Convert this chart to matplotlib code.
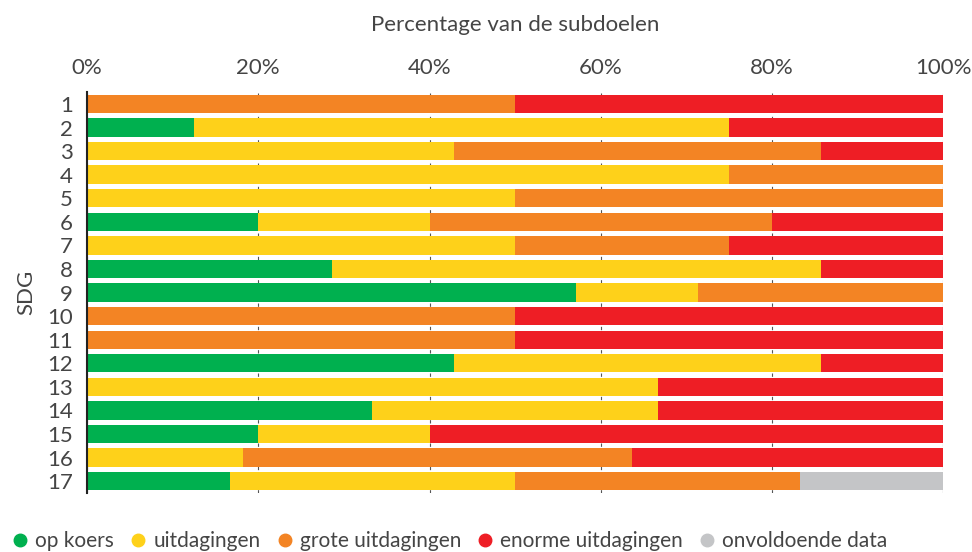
import matplotlib
matplotlib.use("Agg")
import matplotlib.pyplot as plt
import numpy as np

plt.rcParams['font.family'] = ['Lato', 'DejaVu Sans']

sdgs = [str(i) for i in range(1, 18)]
categories = ["op koers", "uitdagingen", "grote uitdagingen", "enorme uitdagingen", "onvoldoende data"]
colors = ["#00b04f", "#fed11a", "#f38424", "#ee1e25", "#c4c5c7"]

op_koers =    [0, 12.5, 0, 0, 0, 20, 0, 28.6, 57.1, 0, 0, 42.9, 0, 33.3, 20, 0, 16.7]
uitdagingen = [0, 62.5, 42.9, 75, 50, 20, 50, 57.1, 14.3, 0, 0, 42.8, 66.7, 33.4, 20, 18.2, 33.3]
grote =       [50, 0, 42.8, 25, 50, 40, 25, 0, 28.6, 50, 50, 0, 0, 0, 0, 45.4, 33.3]
enorme =      [50, 25, 14.3, 0, 0, 20, 25, 14.3, 0, 50, 50, 14.3, 33.3, 33.3, 60, 36.4, 0]
onvoldoende = [0, 0, 0, 0, 0, 0, 0, 0, 0, 0, 0, 0, 0, 0, 0, 0, 16.7]

series = [op_koers, uitdagingen, grote, enorme, onvoldoende]

TXT = '#454545'
FS = 16

fig = plt.figure(figsize=(9.72, 5.52), dpi=100)
ax = fig.add_axes([0.0895, 0.107, 0.881, 0.726])

y = np.arange(len(sdgs))
left = np.zeros(len(sdgs))
for vals, col, lab in zip(series, colors, categories):
    v = np.array(vals, dtype=float)
    ax.barh(y, v, left=left, color=col, height=0.78, label=lab, zorder=3)
    left += v

ax.set_xlim(0, 100)
ax.set_ylim(len(sdgs) - 0.5, -0.5)
ax.set_yticks(y)
ax.set_yticklabels(sdgs)
ax.set_xticks([0, 20, 40, 60, 80, 100])
ax.set_xticklabels([f"{t}%" for t in [0, 20, 40, 60, 80, 100]])
ax.xaxis.tick_top()
ax.xaxis.set_label_position('top')
ax.tick_params(axis='x', length=0, pad=10, labelsize=FS, labelcolor=TXT)
ax.tick_params(axis='y', length=0, pad=10, labelsize=FS, labelcolor=TXT)

ax.grid(axis='x', linestyle=(0, (3, 4)), color='#555555', linewidth=0.8, zorder=0)
ax.set_axisbelow(True)
for s in ['top', 'right', 'bottom']:
    ax.spines[s].set_visible(False)
ax.spines['left'].set_color('#222222')
ax.spines['left'].set_linewidth(1.5)
ax.spines['left'].set_zorder(4)

ax.set_xlabel("Percentage van de subdoelen", fontsize=FS, color=TXT, labelpad=20)
ax.set_ylabel("SDG", fontsize=FS, color=TXT, labelpad=8)

handles = [plt.Line2D([0], [0], marker='o', linestyle='none', markersize=9,
                      markerfacecolor=c, markeredgecolor=c) for c in colors]
leg = fig.legend(handles, categories, loc='center left',
                 bbox_to_anchor=(14 / 972, 11 / 552),
                 ncol=5, frameon=False, fontsize=15, handletextpad=0.42,
                 columnspacing=0.86, handlelength=0.6, borderaxespad=0, borderpad=0)
for t in leg.get_texts():
    t.set_color(TXT)

fig.savefig("out.png", dpi=100)
